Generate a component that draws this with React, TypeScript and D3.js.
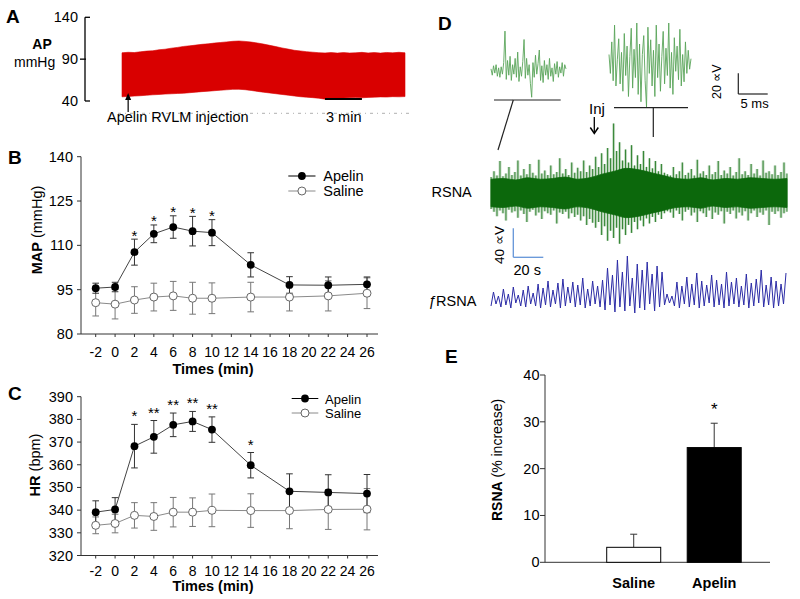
import React from 'react';
import * as d3 from 'd3';

// ---------------- data ----------------
// Panel A: arterial pressure trace envelope (mmHg), one sample per 0.5 min
const apUpper = [97.6, 98.2, 97.9, 98.8, 99.6, 100.0, 101.2, 101.9, 103.1, 104.0, 105.2, 105.9, 106.8, 107.7, 108.3, 109.2, 109.9, 110.6, 111.3, 111.7, 111.2, 110.4, 109.3, 108.0, 106.5, 105.0, 103.4, 102.0, 100.6, 99.8, 98.9, 98.3, 97.7, 97.4, 97.9, 97.2, 97.8, 97.3, 97.6, 98.1, 97.4, 97.9, 97.2, 98.0, 97.5, 98.2, 97.6];
const apLower = [45.0, 45.4, 45.9, 46.3, 46.9, 47.4, 47.8, 48.3, 48.6, 49.0, 49.3, 49.9, 50.6, 51.2, 51.7, 52.3, 52.9, 53.4, 53.9, 54.0, 53.5, 52.6, 51.5, 50.5, 49.6, 48.7, 47.8, 47.0, 46.0, 45.1, 44.6, 44.0, 43.3, 42.2, 42.4, 43.0, 43.6, 43.9, 44.1, 43.8, 44.3, 44.6, 44.9, 44.7, 45.2, 45.0, 45.3];
const apTicks = [40, 90, 140];

// Panels B & C
const timePoints = [-2, 0, 2, 4, 6, 8, 10, 14, 18, 22, 26];
const timeTicks = [-2, 0, 2, 4, 6, 8, 10, 12, 14, 16, 18, 20, 22, 24, 26];
const mapApelin = [95.5, 95.9, 107.7, 113.9, 116.2, 114.8, 114.3, 103.4, 96.6, 96.5, 96.8];
const mapApelinErr = [1.7, 1.6, 4.4, 3.0, 3.8, 5.0, 4.4, 4.1, 2.8, 2.8, 2.5];
const mapSaline = [90.6, 90.1, 91.5, 92.5, 92.9, 92.1, 92.1, 92.5, 92.5, 92.9, 93.8];
const mapSalineErr = [4.5, 5.0, 4.5, 4.7, 4.9, 5.4, 5.2, 5.0, 4.7, 5.1, 5.2];
const mapStars = ['', '', '*', '*', '*', '*', '*', '', '', '', ''];
const mapTicks = [80, 95, 110, 125, 140];

const hrApelin = [339.1, 340.3, 368.2, 372.3, 377.6, 379.1, 375.5, 359.8, 348.3, 347.8, 347.3];
const hrApelinErr = [5.0, 5.2, 9.6, 7.2, 5.2, 4.4, 5.6, 5.6, 7.7, 7.8, 8.4];
const hrSaline = [333.3, 334.1, 337.7, 337.2, 339.1, 339.1, 339.9, 339.8, 339.8, 340.3, 340.4];
const hrSalineErr = [3.7, 4.1, 5.6, 6.1, 6.5, 6.3, 7.2, 7.4, 8.0, 8.8, 9.1];
const hrStars = ['', '', '*', '**', '**', '**', '**', '*', '', '', ''];
const hrTicks = [320, 330, 340, 350, 360, 370, 380, 390];

// Panel D: nerve recordings
const leftInset = [2, -4, 5, -2, 6, -5, 3, -6, 4, -3, 8, 38, -8, 10, -4, 14, -9, 6, -3, 12, -6, 18, -10, 4, -5, 9, 30, -7, 12, -4, 6, -12, -25, 8, -6, 15, -3, 7, 20, -9, 5, -11, 10, -4, 6, -8, 12, -5, 3, -10, 7, -3, 9, -6, 4, -2, 8, -5, 6, 2];
const rightInset = [10, -8, 22, -15, 38, -20, 5, 25, -18, 12, -25, 30, -10, 18, -30, 8, 35, -22, 15, -12, 40, -28, 20, -35, 10, 28, -15, -40, 36, -8, 24, -20, 14, -30, 38, -12, 20, -25, 8, 32, -18, 16, -10, 40, -22, 12, -28, 26, -6, 18, -14, 34, -20, 10, -16, 22, -8, 14, -4, 6];
const rsnaUpper = [
  22, 30, 24, 44, 23, 27, 36, 25, 29, 45,
  24, 33, 26, 40, 28, 24, 46, 27, 31, 25,
  38, 26, 29, 48, 27, 33, 25, 42, 28, 35,
  30, 45, 29, 38, 33, 50, 36, 55, 40, 62,
  48, 96, 58, 70, 45, 60, 42, 66, 38, 52,
  40, 58, 36, 48, 34, 44, 30, 40, 28, 26,
  24, 36, 26, 30, 42, 25, 28, 33, 24, 46,
  27, 30, 25, 38, 26, 29, 44, 25, 31, 27,
  36, 24, 29, 48, 26, 30, 25, 40, 27, 33,
  24, 45, 28, 30, 26, 38, 25, 29, 42, 27];
const rsnaLower = [
  -22, -26, -32, -24, -28, -38, -23, -27, -25, -34,
  -24, -29, -40, -26, -23, -31, -27, -36, -25, -28,
  -30, -24, -42, -27, -29, -26, -35, -28, -33, -30,
  -38, -32, -44, -36, -41, -48, -40, -58, -46, -66,
  -52, -62, -48, -70, -50, -58, -44, -55, -40, -50,
  -38, -46, -35, -42, -33, -40, -30, -36, -28, -25,
  -27, -34, -24, -29, -38, -26, -23, -31, -27, -40,
  -25, -28, -33, -24, -36, -27, -30, -25, -42, -26,
  -29, -24, -35, -27, -31, -25, -38, -28, -24, -33,
  -27, -30, -24, -44, -26, -29, -25, -34, -28, -26];
// half-width of the dense core of the RSNA band (µV)
const rsnaCore = [19, 20, 18, 21, 19, 20, 22, 19, 21, 26, 30, 34, 32, 28, 24, 20, 19, 21, 18, 20, 19, 21, 20, 19, 20];
const fRsna = [
  2, 16, 4, 12, 1, 19, 3, 14, 0, 21, 5, 13, 2, 18, 1, 22, 4, 15,
  2, 24, 0, 20, 3, 27, 1, 18, 4, 25, 0, 29, 2, 21, 5, 26, 1, 23, 3, 30, 0, 19, 2, 27, 4, 22, 1, 28,
  -2, 40, 3, 33, -4, 48, 1, 36, -3, 52, 2, 30, -5, 44, 0, 38, -2, 46, 4, 34, -3, 42, 1, 36,
  3, 14, 5, 12,
  2, 26, 0, 22, 4, 31, 1, 24, 3, 35, 0, 27, 2, 23, 5, 33, 1, 28, 3, 24, 0, 36, 2, 26, 4, 30, 1, 22, 3, 34, 0, 25, 2, 29, 5, 38, 1, 23, 3, 31, 0, 27, 2, 24, 4, 35];

// Panel E
const rsnaCats = ['Saline', 'Apelin'];
const rsnaValues = [3.2, 24.5];
const rsnaErr = [2.8, 5.2];
const rsnaStars = ['', '*'];
const rsnaTicks = [0, 10, 20, 30, 40];

const FONT = '"Liberation Sans", Arial, Helvetica, sans-serif';

// ---------------- panels ----------------
function PanelA() {
  const x = d3.scaleLinear().domain([0, apUpper.length - 1]).range([122, 405]);
  const y = d3.scaleLinear().domain([40, 140]).range([101, 17.3]);
  const area = d3.area<number>().x((_, i) => x(i)).y0((_, i) => y(apLower[i])).y1((d) => y(d));
  const injX = x(1);
  return (
    <g>
      <text x={6} y={23} fontSize={19} fontWeight="bold">A</text>
      <line x1={85} x2={85} y1={y(140)} y2={y(40)} stroke="#000" strokeWidth={1.3} />
      {apTicks.map((t) => (
        <g key={t}>
          <line x1={t === 90 ? 80 : 85} x2={t === 90 ? 86 : 90} y1={y(t)} y2={y(t)} stroke="#000" strokeWidth={1.3} />
          <text x={78} y={y(t) + 5} fontSize={14.5} textAnchor="end">{t}</text>
        </g>
      ))}
      <text x={42} y={49} fontSize={14} fontWeight="bold" textAnchor="middle">AP</text>
      <text x={14} y={67} fontSize={14}>mmHg</text>
      <line x1={118} x2={410} y1={113.3} y2={113.3} stroke="#b0b0b0" strokeWidth={1} strokeDasharray="3 4 1 4" />
      <path d={area(apUpper) || ''} fill="#d90000" stroke="#d90000" strokeWidth={0.6} />
      <line x1={x(33)} x2={x(39)} y1={99} y2={99} stroke="#000" strokeWidth={2} />
      <text x={326} y={121.5} fontSize={14.5}>3 min</text>
      <line x1={injX} x2={injX} y1={112} y2={95} stroke="#000" strokeWidth={1.2} />
      <path d={`M${injX - 3},${100} L${injX},${93} L${injX + 3},${100} Z`} fill="#000" />
      <text x={107} y={121.5} fontSize={14.5}>Apelin RVLM injection</text>
    </g>
  );
}

type LineProps = {
  label: string; labelY: number;
  yDomain: [number, number]; yRange: [number, number]; yTicks: number[];
  apelin: number[]; apelinErr: number[]; saline: number[]; salineErr: number[];
  stars: string[]; starDy: number;
  titleBold: string; titleRest: string; titleX: number; titleY: number;
  xTickY: number; xTitleY: number;
  legLineX: [number, number]; legTextX: number; legY: [number, number]; legFont: number;
};

function LinePanel(p: LineProps) {
  const x = d3.scaleLinear().domain([-2, 26]).range([95.7, 367]);
  const y = d3.scaleLinear().domain(p.yDomain).range(p.yRange);
  const yB = y(p.yDomain[0]);
  const yT = y(p.yDomain[1]);
  const line = d3.line<number>().x((_, i) => x(timePoints[i])).y((d) => y(d));
  const legMid = (p.legLineX[0] + p.legLineX[1]) / 2;
  const errBars = (vals: number[], errs: number[], color: string) =>
    vals.map((v, i) => {
      const cx = x(timePoints[i]);
      return (
        <g key={i} stroke={color} strokeWidth={1}>
          <line x1={cx} x2={cx} y1={y(v + errs[i])} y2={y(v - errs[i])} />
          <line x1={cx - 3.3} x2={cx + 3.3} y1={y(v + errs[i])} y2={y(v + errs[i])} />
          <line x1={cx - 3.3} x2={cx + 3.3} y1={y(v - errs[i])} y2={y(v - errs[i])} />
        </g>
      );
    });
  return (
    <g>
      <text x={8} y={p.labelY} fontSize={19} fontWeight="bold">{p.label}</text>
      <line x1={81} x2={81} y1={yT} y2={yB} stroke="#333" strokeWidth={1} />
      <line x1={81} x2={378} y1={yB} y2={yB} stroke="#333" strokeWidth={1} />
      {p.yTicks.map((t) => (
        <g key={t}>
          <line x1={77} x2={81} y1={y(t)} y2={y(t)} stroke="#333" />
          <text x={73} y={y(t) + 5} fontSize={14.5} textAnchor="end">{t}</text>
        </g>
      ))}
      {timeTicks.map((t) => (
        <g key={t}>
          <line x1={x(t)} x2={x(t)} y1={yB} y2={yB + 3} stroke="#333" />
          <text x={x(t)} y={p.xTickY} fontSize={14} textAnchor="middle">{t}</text>
        </g>
      ))}
      <text x={213} y={p.xTitleY} fontSize={14.5} fontWeight="bold" textAnchor="middle">Times (min)</text>
      <text transform={`translate(${p.titleX},${p.titleY}) rotate(-90)`} fontSize={14.5} textAnchor="middle">
        <tspan fontWeight="bold">{p.titleBold}</tspan>
        <tspan>{p.titleRest}</tspan>
      </text>
      {errBars(p.saline, p.salineErr, '#777')}
      {errBars(p.apelin, p.apelinErr, '#333')}
      <path d={line(p.saline) || ''} fill="none" stroke="#8a8a8a" strokeWidth={1} />
      <path d={line(p.apelin) || ''} fill="none" stroke="#444" strokeWidth={1} />
      {p.saline.map((v, i) => (
        <circle key={'s' + i} cx={x(timePoints[i])} cy={y(v)} r={4} fill="#fff" stroke="#666" strokeWidth={1} />
      ))}
      {p.apelin.map((v, i) => (
        <circle key={'a' + i} cx={x(timePoints[i])} cy={y(v)} r={3.9} fill="#000" />
      ))}
      {p.stars.map((s, i) =>
        s ? (
          <text key={'st' + i} x={x(timePoints[i])} y={y(p.apelin[i] + p.apelinErr[i]) + p.starDy} fontSize={15} textAnchor="middle">{s}</text>
        ) : null
      )}
      <line x1={p.legLineX[0]} x2={p.legLineX[1]} y1={p.legY[0]} y2={p.legY[0]} stroke="#000" />
      <circle cx={legMid} cy={p.legY[0]} r={3.9} fill="#000" />
      <text x={p.legTextX} y={p.legY[0] + 5} fontSize={p.legFont}>Apelin</text>
      <line x1={p.legLineX[0]} x2={p.legLineX[1]} y1={p.legY[1]} y2={p.legY[1]} stroke="#8a8a8a" />
      <circle cx={legMid} cy={p.legY[1]} r={4} fill="#fff" stroke="#666" />
      <text x={p.legTextX} y={p.legY[1] + 4.5} fontSize={p.legFont}>Saline</text>
    </g>
  );
}

function PanelD() {
  const xl = d3.scaleLinear().domain([0, leftInset.length - 1]).range([491, 566]);
  const yl = d3.scaleLinear().domain([0, 20]).range([71, 50]);
  const xr = d3.scaleLinear().domain([0, rightInset.length - 1]).range([609, 691]);
  const yr = d3.scaleLinear().domain([0, 20]).range([65, 44]);
  const xs = d3.scaleLinear().domain([0, rsnaUpper.length - 1]).range([491, 787]);
  const xc = d3.scaleLinear().domain([0, rsnaCore.length - 1]).range([491, 787]);
  const ys = d3.scaleLinear().domain([0, 40]).range([193, 164]);
  const xf = d3.scaleLinear().domain([0, fRsna.length - 1]).range([491, 786]);
  const yf = d3.scaleLinear().domain([0, 40]).range([308, 268]);
  const lineL = d3.line<number>().x((_, i) => xl(i)).y((d) => yl(d));
  const lineR = d3.line<number>().x((_, i) => xr(i)).y((d) => yr(d));
  const areaS = d3.area<number>().x((_, i) => xs(i)).y0((_, i) => ys(rsnaLower[i])).y1((d) => ys(d)).curve(d3.curveStep);
  const areaC = d3.area<number>().x((_, i) => xc(i)).y0((d) => ys(-d)).y1((d) => ys(d)).curve(d3.curveMonotoneX);
  const lineF = d3.line<number>().x((_, i) => xf(i)).y((d) => yf(d));
  return (
    <g>
      <text x={438} y={30} fontSize={19} fontWeight="bold">D</text>
      <path d={lineL(leftInset) || ''} fill="none" stroke="#5aa55a" strokeWidth={0.9} />
      <path d={lineR(rightInset) || ''} fill="none" stroke="#5aa55a" strokeWidth={0.9} />
      <g stroke="#222" strokeWidth={1.2}>
        <line x1={494} x2={560.7} y1={100} y2={100} />
        <line x1={513.3} x2={498} y1={100} y2={150} />
        <line x1={614} x2={688} y1={107.7} y2={107.7} />
        <line x1={653.3} x2={653.3} y1={107.7} y2={137} />
        <line x1={738.3} x2={738.3} y1={73.3} y2={94} />
        <line x1={738.3} x2={767.7} y1={94} y2={94} />
      </g>
      <text x={589} y={113.5} fontSize={15}>Inj</text>
      <line x1={594.3} x2={594.3} y1={117} y2={133} stroke="#000" strokeWidth={1.3} />
      <polyline points="590.3,127.5 594.3,133.5 598.3,127.5" fill="none" stroke="#000" strokeWidth={1.5} />
      <text transform="translate(721,81.7) rotate(-90)" fontSize={12.5} textAnchor="middle">20 ∝V</text>
      <text x={740.5} y={108} fontSize={13}>5 ms</text>
      {rsnaUpper.map((u, i) => (
        <line key={i} x1={xs(i)} x2={xs(i)} y1={ys(u)} y2={ys(rsnaLower[i])} stroke="#3a8a3a" strokeWidth={1.1} />
      ))}
      <path d={areaS(rsnaUpper) || ''} fill="#2f7f2f" fillOpacity={0.25} stroke="none" />
      <path d={areaC(rsnaCore) || ''} fill="#0c680c" stroke="#0c680c" strokeWidth={0.8} />
      <text x={431.5} y={196.5} fontSize={14.5}>RSNA</text>
      <line x1={513.3} x2={513.3} y1={228.3} y2={257.3} stroke="#6495d8" strokeWidth={1.3} />
      <line x1={513.3} x2={543.3} y1={257.3} y2={257.3} stroke="#6495d8" strokeWidth={1.3} />
      <text transform="translate(504,245) rotate(-90)" fontSize={13.5} textAnchor="middle">40 ∝V</text>
      <text x={513.5} y={275} fontSize={14.5}>20 s</text>
      <path d={lineF(fRsna) || ''} fill="none" stroke="#2b2ba6" strokeWidth={1} />
      <text x={428} y={306} fontSize={14.5}>
        <tspan fontStyle="italic">ƒ</tspan>RSNA
      </text>
    </g>
  );
}

function PanelE() {
  const x = d3.scaleBand<string>().domain(rsnaCats).range([545, 770]).paddingInner(0.329).paddingOuter(0.562).align(0.682);
  const y = d3.scaleLinear().domain([0, 40]).range([562.3, 375]);
  const bw = x.bandwidth();
  return (
    <g>
      <text x={445} y={363} fontSize={19} fontWeight="bold">E</text>
      <line x1={545} x2={545} y1={y(40)} y2={y(0)} stroke="#333" />
      <line x1={545} x2={770} y1={y(0)} y2={y(0)} stroke="#333" />
      {rsnaTicks.map((t) => (
        <g key={t}>
          <line x1={540} x2={545} y1={y(t)} y2={y(t)} stroke="#333" />
          <text x={539.5} y={y(t) + 5} fontSize={14.5} textAnchor="end">{t}</text>
        </g>
      ))}
      <text transform="translate(501.5,460) rotate(-90)" fontSize={14} textAnchor="middle">
        <tspan fontWeight="bold">RSNA</tspan>
        <tspan> (% increase)</tspan>
      </text>
      {rsnaCats.map((c, i) => {
        const x0 = x(c) as number;
        const cx = x0 + bw / 2;
        const top = y(rsnaValues[i]);
        const et = y(rsnaValues[i] + rsnaErr[i]);
        return (
          <g key={c}>
            <line x1={cx} x2={cx} y1={top} y2={et} stroke="#333" />
            <line x1={cx - 3.5} x2={cx + 3.5} y1={et} y2={et} stroke="#333" />
            <rect x={x0} y={top} width={bw} height={y(0) - top} fill={i === 0 ? '#fff' : '#000'} stroke="#000" strokeWidth={1} />
            <text x={cx} y={588} fontSize={14.5} fontWeight="bold" textAnchor="middle">{c}</text>
            {rsnaStars[i] ? (
              <text x={cx} y={et - 8.5} fontSize={17} textAnchor="middle">{rsnaStars[i]}</text>
            ) : null}
          </g>
        );
      })}
    </g>
  );
}

export default function App() {
  return (
    <svg
      width={800}
      height={599}
      viewBox="0 0 800 599"
      style={{ position: 'absolute', left: 0, top: 0, background: '#fff', fontFamily: FONT }}
      fontFamily={FONT}
    >
      <rect x={0} y={0} width={800} height={599} fill="#fff" />
      <PanelA />
      <LinePanel
        label="B" labelY={164}
        yDomain={[80, 140]} yRange={[334, 156.7]} yTicks={mapTicks}
        apelin={mapApelin} apelinErr={mapApelinErr} saline={mapSaline} salineErr={mapSalineErr}
        stars={mapStars} starDy={1.5}
        titleBold="MAP" titleRest=" (mmHg)" titleX={41.5} titleY={230}
        xTickY={357} xTitleY={373.5}
        legLineX={[288.3, 315.5]} legTextX={323.3} legY={[176, 191]} legFont={14.5}
      />
      <LinePanel
        label="C" labelY={400}
        yDomain={[320, 390]} yRange={[555.5, 396.7]} yTicks={hrTicks}
        apelin={hrApelin} apelinErr={hrApelinErr} saline={hrSaline} salineErr={hrSalineErr}
        stars={hrStars} starDy={-3}
        titleBold="HR" titleRest=" (bpm)" titleX={39.5} titleY={465}
        xTickY={575.5} xTitleY={591}
        legLineX={[291.7, 318.3]} legTextX={325} legY={[398.5, 413]} legFont={13}
      />
      <PanelD />
      <PanelE />
    </svg>
  );
}
